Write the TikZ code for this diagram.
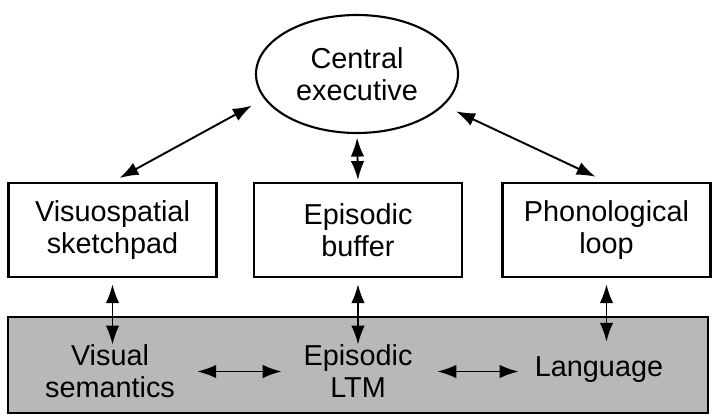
\documentclass[tikz,border=0pt]{standalone}
\usepackage{fontspec}
\setmainfont{Liberation Sans}
\usetikzlibrary{arrows.meta, shapes.geometric}

\begin{document}
\begin{tikzpicture}[
        every node/.style={font=\fontsize{16.4}{18.2}\selectfont},
        caja/.style={
            rectangle,
            draw=black,
            line width=1.3pt,
            minimum width=4.16cm,
            minimum height=1.88cm,
            align=center,
            inner sep=0pt
        },
        ejecutivo/.style={
            ellipse,
            draw=black,
            line width=1.2pt,
            minimum width=4.04cm,
            minimum height=2.36cm,
            align=center,
            inner sep=0pt
        },
        banda/.style={
            rectangle,
            draw=black,
            line width=1.5pt,
            fill=black!28,
            minimum width=14cm,
            minimum height=1.92cm,
            inner sep=0pt
        },
        texto/.style={align=center, inner sep=0pt},
        flecha/.style={{Latex[length=3.8mm,width=2.7mm]}-{Latex[length=3.8mm,width=2.7mm]}, line width=1.1pt, draw=black}
    ]
        \useasboundingbox (0,0) rectangle (14.38,8.3);

        \node[ejecutivo] (central) at (7.14,6.82) {
            Central\\executive
        };

        \node[caja] (visuo) at (2.25,3.70) {
            Visuospatial\\sketchpad
        };

        \node[caja] (buffer) at (7.16,3.70) {
            Episodic\\buffer
        };

        \node[caja] (fono) at (12.13,3.70) {
            Phonological\\loop
        };

        \node[banda] (ltm) at (7.16,1.0) {};

        \node[texto] (visual) at (2.20,0.87) {
            Visual\\semantics
        };

        \node[texto] (episodico) at (7.16,0.87) {
            Episodic\\LTM
        };

        \node[texto] (lenguaje) at (12.06,0.90) {
            Language
        };

        \draw[flecha, shorten <=2pt, shorten >=1pt] (central.south) -- (buffer.north);
        \draw[flecha, shorten <=0.16cm, shorten >=0.28cm] (visuo.north) -- (central.195);
        \draw[flecha, shorten <=0.24cm, shorten >=0.27cm] (fono.north) -- (central.340);

        \draw[flecha, shorten <=0.12cm] (visuo.south) -- (visuo.south |- visual.north);
        \draw[flecha, shorten <=0.12cm] (buffer.south) -- (episodico.north);
        \draw[flecha, shorten <=0.12cm, shorten >=0.3cm] (fono.south) -- (fono.south |- lenguaje.north);

        \draw[flecha, shorten <=0.44cm, shorten >=0.43cm] (visual.east) -- (episodico.west);
        \draw[flecha, shorten <=0.49cm, shorten >=0.32cm] (episodico.east) -- (episodico.east -| lenguaje.west);
    \end{tikzpicture}
\end{document}
